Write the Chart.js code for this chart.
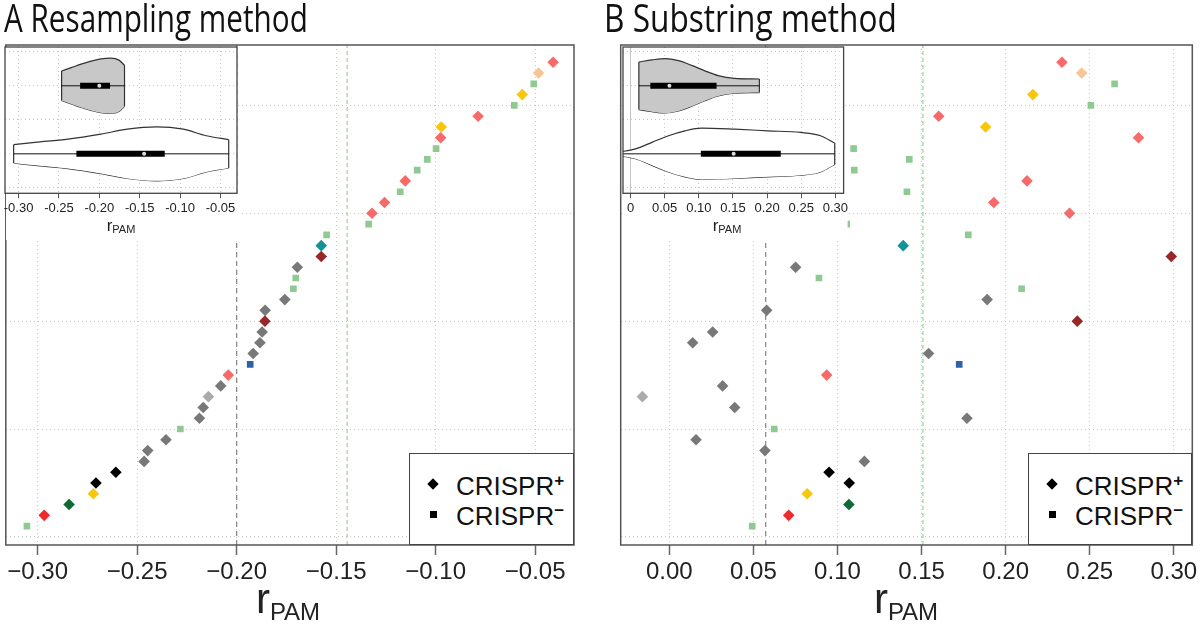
<!DOCTYPE html>
<html>
<head>
<meta charset="utf-8">
<script src="https://cdn.jsdelivr.net/npm/chart.js@4.4.1/dist/chart.umd.min.js"></script>
<style>
  body { margin: 0; background: #fff; }
  #wrap { position: relative; width: 1200px; height: 625px; overflow: hidden; font-family: "Liberation Sans", Arial, sans-serif; color: #111; }
  canvas { position: absolute; }
  .title { position: absolute; top: -2px; font-family: "Open Sans", sans-serif; font-size: 38px; line-height: 1; white-space: nowrap; transform-origin: left top; }
  .axt { position: absolute; white-space: nowrap; line-height: 1; transform: translateX(-50%); color: #222; }
  .axt .s { vertical-align: -7px; }
  .legend { position: absolute; box-sizing: border-box; border: 1.5px solid #444; background: #fff; }
  .row { position: absolute; left: 0; font-size: 26px; line-height: 1; white-space: nowrap; }
  .row sup { font-size: 17px; font-weight: bold; vertical-align: 9px; }
  .mk { position: absolute; background: #000; }
</style>
</head>
<body>
<div id="wrap">
  <canvas id="chartA" width="600" height="625" style="left:0;top:0"></canvas>
  <canvas id="chartB" width="600" height="625" style="left:600px;top:0"></canvas>
  <canvas id="insetA" width="240" height="197" style="left:1px;top:43px"></canvas>
  <canvas id="insetB" width="230" height="197" style="left:618.7px;top:43px"></canvas>

  <div class="title" id="titleA" style="left:4px">A Resampling method</div>
  <div class="title" id="titleB" style="left:604px">B Substring method</div>

  <div class="axt" style="left:288px;top:578px;font-size:42px">r<span class="s" style="font-size:24px">PAM</span></div>
  <div class="axt" style="left:906px;top:578px;font-size:42px">r<span class="s" style="font-size:24px">PAM</span></div>
  <div class="axt" style="left:121px;top:217px;font-size:17px">r<span style="font-size:11px;vertical-align:-2px">PAM</span></div>
  <div class="axt" style="left:727px;top:217px;font-size:17px">r<span style="font-size:11px;vertical-align:-2px">PAM</span></div>

  <div class="legend" style="left:409px;top:453px;width:165px;height:92px">
    <div class="mk" style="left:19px;top:26px;width:8px;height:8px;transform:rotate(45deg)"></div>
    <div class="row" style="left:46px;top:18px">CRISPR<sup>+</sup></div>
    <div class="mk" style="left:20px;top:57px;width:7px;height:7px"></div>
    <div class="row" style="left:46px;top:48px">CRISPR<sup>−</sup></div>
  </div>
  <div class="legend" style="left:1028px;top:453px;width:164px;height:92px">
    <div class="mk" style="left:19px;top:26px;width:8px;height:8px;transform:rotate(45deg)"></div>
    <div class="row" style="left:46px;top:18px">CRISPR<sup>+</sup></div>
    <div class="mk" style="left:20px;top:57px;width:7px;height:7px"></div>
    <div class="row" style="left:46px;top:48px">CRISPR<sup>−</sup></div>
  </div>
</div>

<script>
// one entry per genome/rank, bottom (1) to top (44), ordered by the resampling estimate
const resampling = [-0.3054, -0.2967, -0.2842, -0.2720, -0.2707, -0.2607, -0.2465, -0.2447, -0.2355, -0.2283,
  -0.2187, -0.2168, -0.2142, -0.2080, -0.2042, -0.1932, -0.1917, -0.1883, -0.1872, -0.1858,
  -0.1857, -0.1758, -0.1715, -0.1703, -0.1695, -0.1575, -0.1575, -0.1548, -0.1337, -0.1320,
  -0.1257, -0.1178, -0.1153, -0.1093, -0.1042, -0.0998, -0.0975, -0.0972, -0.0787, -0.0605,
  -0.0565, -0.0507, -0.0483, -0.0410];
const substring = [0.0493, 0.0710, 0.1068, 0.0820, 0.1070, 0.0950, 0.1160, 0.0569, 0.0159, 0.0624,
  0.1770, 0.0389, -0.0160, 0.0317, 0.0936, 0.1724, 0.1542, 0.0139, 0.0258, 0.2426,
  0.0579, 0.1890, 0.2095, 0.0890, 0.0751, 0.2985, 0.1391, 0.1778, 0.1055, 0.2380,
  0.1930, 0.1413, 0.2127, 0.1100, 0.1427, 0.1096, 0.2790, 0.1881, 0.1602, 0.2507,
  0.2162, 0.2648, 0.2452, 0.2335];
const groups = ['lgreen', 'red', 'dgreen', 'yellow', 'black', 'black', 'gray', 'gray', 'gray', 'lgreen',
  'gray', 'gray', 'lgray', 'gray', 'salmon', 'blue', 'gray', 'gray', 'gray', 'dred',
  'gray', 'gray', 'lgreen', 'lgreen', 'gray', 'dred', 'teal', 'lgreen', 'lgreen', 'salmon',
  'salmon', 'lgreen', 'salmon', 'lgreen', 'lgreen', 'lgreen', 'salmon', 'yellow', 'salmon', 'lgreen',
  'yellow', 'lgreen', 'peach', 'salmon'];
const crispr = ['-', '+', '+', '+', '+', '+', '+', '+', '+', '-',
  '+', '+', '+', '+', '+', '-', '+', '+', '+', '+',
  '+', '+', '-', '-', '+', '+', '+', '-', '-', '+',
  '+', '-', '+', '-', '-', '-', '+', '+', '+', '-',
  '+', '-', '+', '+'];

const ticksA = [-0.30, -0.25, -0.20, -0.15, -0.10, -0.05];
const ticksB = [0, 0.05, 0.10, 0.15, 0.20, 0.25, 0.30];
const rankGrid = [0, 10, 20, 30, 40];
const mediansA = [-0.200, -0.1445];   // grey (CRISPR-), green (CRISPR+)
const mediansB = [0.0573, 0.1508];

// inset violins: x along r_PAM, half widths in row units
const violinAwhiteX = [-0.3061, -0.2797, -0.2388, -0.198, -0.1654, -0.1287, -0.0961, -0.0675, -0.0398];
const violinAwhiteW = [0.135, 0.169, 0.217, 0.29, 0.362, 0.396, 0.362, 0.266, 0.208];
const boxAwhite = [-0.2284, -0.1445, -0.119];
const violinAgreyX = [-0.2467, -0.2348, -0.2225, -0.2103, -0.198, -0.1858, -0.1756, -0.1688];
const violinAgreyW = [0.217, 0.266, 0.319, 0.362, 0.396, 0.406, 0.377, 0.30];
const boxAgrey = [-0.2238, -0.200, -0.1867];

const violinBwhiteX = [-0.0179, 0.0073, 0.0315, 0.0557, 0.0798, 0.104, 0.1524, 0.2009, 0.2492, 0.2782, 0.299];
const violinBwhiteW = [0.024, 0.072, 0.169, 0.266, 0.338, 0.377, 0.362, 0.338, 0.314, 0.266, 0.155];
const boxBwhite = [0.103, 0.151, 0.220];
const violinBgreyX = [0.0122, 0.0315, 0.0508, 0.0702, 0.0896, 0.1089, 0.1283, 0.1524, 0.1887];
const violinBgreyW = [0.35, 0.38, 0.40, 0.37, 0.30, 0.22, 0.15, 0.11, 0.10];
const boxBgrey = [0.029, 0.057, 0.126];

const palette = {
  lgreen: '#8fca92', red: '#ee2b2b', dgreen: '#0f6a36', yellow: '#f8c70c', black: '#000000',
  gray: '#787878', lgray: '#ababab', salmon: '#f86a6a', blue: '#2f62a5', dred: '#982828',
  teal: '#12939a', peach: '#f9c597'
};

const fmtMinus = v => (v < 0 ? '\u2212' : '') + Math.abs(v).toFixed(2);
const dotted = { display: false, dash: [1, 3] };

// frame around the plot area
const frame = {
  id: 'frame',
  afterDraw(chart, args, opts) {
    const a = chart.chartArea, c = chart.ctx;
    c.save();
    c.strokeStyle = opts.color || '#555';
    c.lineWidth = opts.width || 1.5;
    c.strokeRect(a.left, a.top, a.right - a.left, a.bottom - a.top);
    c.restore();
  }
};
const whiteBg = {
  id: 'whiteBg',
  beforeDraw(chart) {
    const a = chart.chartArea, c = chart.ctx;
    c.save();
    c.fillStyle = '#fff';
    c.fillRect(a.left, a.top, a.right - a.left, a.bottom - a.top);
    c.fillRect(a.left + 1, a.bottom, a.right - a.left + 3, chart.height - a.bottom);
    c.restore();
  }
};

function mainChart(id, values, ticks, medians, xmin, xmax, pad, fmt) {
  const pts = values.map((v, i) => ({ x: v, y: i + 1 }));
  const vline = (x, color, dash) => ({
    type: 'line', data: [{ x, y: -0.75 }, { x, y: 45.6 }], showLine: true,
    borderColor: color, borderDash: dash, borderWidth: 1.3, pointRadius: 0, order: 2
  });
  return new Chart(document.getElementById(id), {
    type: 'scatter',
    data: {
      datasets: [
        {
          data: pts, order: 0,
          pointStyle: c => crispr[c.dataIndex] === '+' ? 'rectRot' : 'rect',
          pointRadius: c => crispr[c.dataIndex] === '+' ? 5.8 : 4.7,
          pointBackgroundColor: groups.map(g => palette[g]),
          pointBorderWidth: 0
        },
        vline(medians[0], '#8c8c8c', [5, 4]),
        vline(medians[1], '#a3d3a3', [4, 3])
      ]
    },
    options: {
      responsive: false, animation: false, devicePixelRatio: 1,
      layout: { padding: pad },
      plugins: { legend: { display: false }, tooltip: { enabled: false }, frame: { color: '#555', width: 1.5 } },
      scales: {
        x: {
          type: 'linear', min: xmin, max: xmax,
          afterBuildTicks: s => { s.ticks = ticks.map(v => ({ value: v })); },
          afterFit: s => { s.height = 80; s.paddingLeft = 0; s.paddingRight = 0; },
          ticks: { callback: fmt, font: { family: 'Liberation Sans', size: 24 }, color: '#222', padding: 3, maxRotation: 0 },
          grid: { color: '#c8c8c8', tickColor: '#666', tickLength: 10, tickWidth: 1.5, tickBorderDash: [] },
          border: dotted
        },
        y: {
          type: 'linear', min: -0.75, max: 45.6,
          afterBuildTicks: s => { s.ticks = rankGrid.map(v => ({ value: v })); },
          afterFit: s => { s.width = 0; },
          ticks: { display: false },
          grid: { color: '#c8c8c8', drawTicks: false },
          border: dotted
        }
      }
    },
    plugins: [frame]
  });
}

mainChart('chartA', resampling, ticksA, mediansA, -0.316, -0.0305, { left: 3, top: 45, right: 26, bottom: 0 }, fmtMinus);
mainChart('chartB', substring, ticksB, mediansB, -0.0289, 0.311, { left: 20.7, top: 45, right: 7.7, bottom: 0 }, v => v.toFixed(2));

function violin(xs, ws, center, fill, box) {
  const up = xs.map((x, i) => ({ x, y: center + ws[i] }));
  const lo = xs.map((x, i) => ({ x, y: center - ws[i] }));
  const n = xs.length - 1;
  const base = { type: 'line', borderColor: '#333', borderWidth: 1.2, pointRadius: 0, fill: false };
  return [
    { ...base, data: up, fill: '+1', backgroundColor: fill, cubicInterpolationMode: 'monotone', order: 6 },
    { ...base, data: lo, cubicInterpolationMode: 'monotone', order: 6 },
    { ...base, data: [{ x: xs[0], y: center - ws[0] }, { x: xs[0], y: center + ws[0] }], order: 5 },
    { ...base, data: [{ x: xs[n], y: center - ws[n] }, { x: xs[n], y: center + ws[n] }], order: 5 },
    { ...base, data: [{ x: xs[0], y: center }, { x: xs[n], y: center }], borderColor: '#111', borderWidth: 1, order: 4 },
    { ...base, data: [{ x: box[0], y: center }, { x: box[2], y: center }], borderColor: '#000', borderWidth: 6, borderCapStyle: 'butt', order: 3 },
    { type: 'line', showLine: false, data: [{ x: box[1], y: center }], pointRadius: 2, pointBackgroundColor: '#ddd', pointBorderWidth: 0, order: 2 }
  ];
}

function insetChart(id, datasets, ticks, xmin, xmax, padRight, fmt) {
  return new Chart(document.getElementById(id), {
    type: 'line',
    data: { datasets },
    options: {
      responsive: false, animation: false, devicePixelRatio: 1,
      layout: { padding: { left: 2, top: 2, right: padRight, bottom: 0 } },
      plugins: { legend: { display: false }, tooltip: { enabled: false }, frame: { color: '#444', width: 1.3 } },
      scales: {
        x: {
          type: 'linear', min: xmin, max: xmax,
          afterBuildTicks: s => { s.ticks = ticks.map(v => ({ value: v })); },
          afterFit: s => { s.height = 46.7; s.paddingLeft = 0; s.paddingRight = 0; },
          ticks: { callback: fmt, font: { family: 'Liberation Sans', size: 13 }, color: '#222', padding: 2, maxRotation: 0 },
          grid: { color: '#c8c8c8', tickColor: '#555', tickLength: 5, tickBorderDash: [] },
          border: dotted
        },
        y: {
          type: 'linear', min: 0.42, max: 2.57,
          afterBuildTicks: s => { s.ticks = [0.5, 1, 1.5, 2, 2.5].map(v => ({ value: v })); },
          afterFit: s => { s.width = 0; },
          ticks: { display: false },
          grid: { color: '#c8c8c8', drawTicks: false },
          border: dotted
        }
      }
    },
    plugins: [whiteBg, frame]
  });
}

insetChart('insetA',
  [...violin(violinAgreyX, violinAgreyW, 2, '#c8c8c8', boxAgrey),
   ...violin(violinAwhiteX, violinAwhiteW, 1, '#ffffff', boxAwhite)],
  ticksA, -0.3168, -0.0295, 3.3, v => v.toFixed(2));

insetChart('insetB',
  [{ type: 'line', data: [{ x: 0, y: 0.42 }, { x: 0, y: 2.57 }], borderColor: '#c4c4c4', borderWidth: 1, pointRadius: 0, order: 9 },
   ...violin(violinBgreyX, violinBgreyW, 2, '#c8c8c8', boxBgrey),
   ...violin(violinBwhiteX, violinBwhiteW, 1, '#ffffff', boxBwhite)],
  ticksB, -0.011, 0.312, 5.4, v => v === 0 ? '0' : v.toFixed(2));

// fit the panel titles to the width they take in the figure
[['titleA', 304], ['titleB', 293]].forEach(([id, w]) => {
  const el = document.getElementById(id);
  el.style.transform = 'scaleX(' + (w / el.offsetWidth) + ')';
});
</script>
</body>
</html>
